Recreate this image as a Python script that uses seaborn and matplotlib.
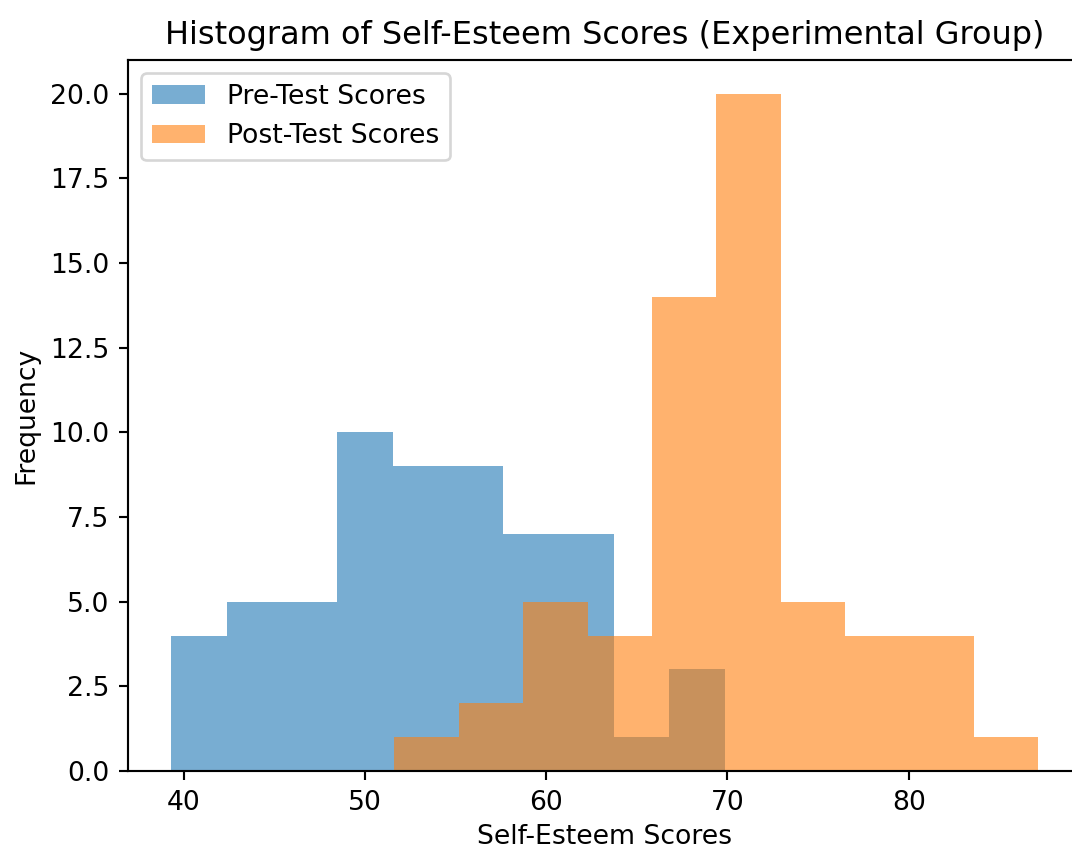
# Histogram of self-esteem scores, pre vs post test (experimental group)
import numpy as np
import seaborn as sns
import matplotlib.pyplot as plt

# Bin edges and counts (10 bins per series)
pre_edges = [39.32, 42.37, 45.42, 48.48, 51.53, 54.58,
             57.63, 60.68, 63.74, 66.79, 69.84]
pre_counts = [4, 5, 5, 10, 9, 9, 7, 7, 1, 3]

post_edges = [51.62, 55.17, 58.73, 62.28, 65.83, 69.38,
              72.93, 76.49, 80.04, 83.59, 87.14]
post_counts = [1, 2, 5, 4, 14, 20, 5, 4, 4, 1]


def plot_histograms():
    # Bin centres carry the counts as weights
    pre_mid = (np.array(pre_edges[:-1]) + np.array(pre_edges[1:])) / 2
    post_mid = (np.array(post_edges[:-1]) + np.array(post_edges[1:])) / 2

    dpi = 192
    fig = plt.figure(figsize=(1072 / dpi, 849 / dpi), dpi=dpi)
    ax = fig.add_axes([0.1194, 0.0919, 0.8895, 0.8375])

    sns.histplot(x=pre_mid, weights=pre_counts, bins=pre_edges,
                 color="C0", alpha=0.6, linewidth=0,
                 label="Pre-Test Scores", ax=ax)
    sns.histplot(x=post_mid, weights=post_counts, bins=post_edges,
                 color="C1", alpha=0.6, linewidth=0,
                 label="Post-Test Scores", ax=ax)

    ax.set_xlim(36.93, 89.53)
    ax.set_ylim(0, 21)
    ax.set_yticks(np.arange(0, 20.1, 2.5))
    ax.yaxis.set_major_formatter(plt.FormatStrFormatter("%.1f"))

    ax.set_title("Histogram of Self-Esteem Scores (Experimental Group)")
    ax.set_xlabel("Self-Esteem Scores", labelpad=3)
    ax.set_ylabel("Frequency")
    ax.legend(loc="upper left")

    fig.savefig("out.png", dpi=dpi)


if __name__ == "__main__":
    plot_histograms()
